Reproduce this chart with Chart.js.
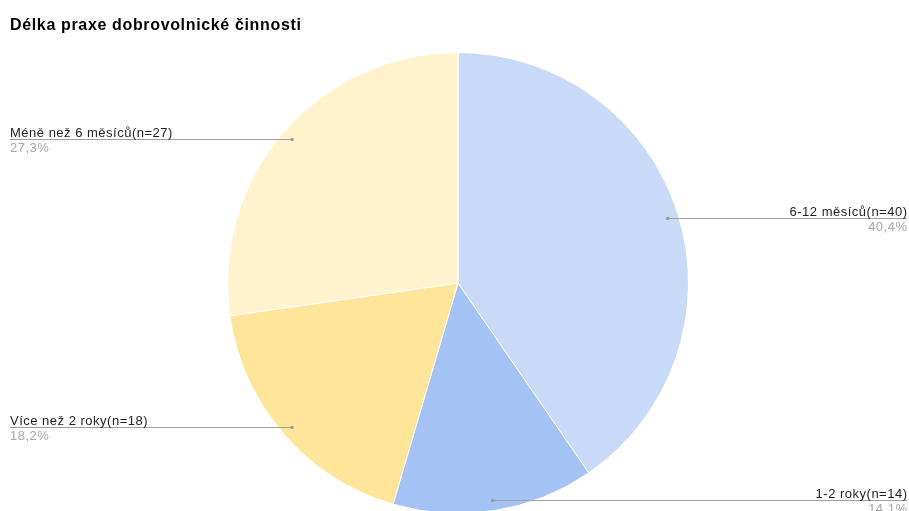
<!DOCTYPE html>
<html>
<head>
<meta charset="utf-8">
<script src="https://cdn.jsdelivr.net/npm/chart.js@4/dist/chart.umd.min.js"></script>
<style>
  html, body { margin: 0; padding: 0; background: #fff; overflow: hidden; }
  #wrap { position: relative; width: 909px; height: 530px; }
</style>
</head>
<body>
<div id="wrap"><canvas id="c" width="909" height="530"></canvas></div>
<script>
const chartTitle = 'Délka praxe dobrovolnické činnosti';
const categories = ['6-12 měsíců', '1-2 roky', 'Více než 2 roky', 'Méně než 6 měsíců'];
const counts = [40, 14, 18, 27];
const sliceColors = ['#c9daf8', '#a4c2f4', '#ffe599', '#fff2cc'];

const FONT = '"Liberation Sans", Arial, Helvetica, sans-serif';

const leaderLabels = {
  id: 'leaderLabels',
  afterDatasetsDraw(chart) {
    const ctx = chart.ctx;
    const meta = chart.getDatasetMeta(0);
    const data = chart.data.datasets[0].data;
    const total = data.reduce((a, b) => a + b, 0);
    ctx.save();
    // title
    ctx.font = 'bold 16px ' + FONT;
    ctx.letterSpacing = '0.65px';
    ctx.fillStyle = '#000000';
    ctx.textAlign = 'left';
    ctx.textBaseline = 'alphabetic';
    ctx.fillText(chartTitle, 10, 30);

    meta.data.forEach((arc, i) => {
      const p = arc.getProps(['x', 'y', 'startAngle', 'endAngle', 'outerRadius'], true);
      const mid = (p.startAngle + p.endAngle) / 2;
      const r = p.outerRadius * 0.953;
      const px = p.x + Math.cos(mid) * r;
      const py = Math.round(p.y + Math.sin(mid) * r) + 0.5;
      const right = Math.cos(mid) >= 0;
      const x0 = right ? px : 10;
      const x1 = right ? 907 : px;
      ctx.strokeStyle = '#a0a0a0';
      ctx.lineWidth = 1;
      ctx.beginPath();
      ctx.moveTo(x0, py);
      ctx.lineTo(x1, py);
      ctx.stroke();
      ctx.fillStyle = '#9a9a9a';
      ctx.beginPath();
      ctx.arc(px, py, 1.8, 0, Math.PI * 2);
      ctx.fill();
      const label = categories[i] + '(n=' + data[i] + ')';
      const pct = (data[i] / total * 100).toFixed(1).replace('.', ',') + '%';
      ctx.font = '13px ' + FONT;
      ctx.letterSpacing = '0.5px';
      ctx.textAlign = right ? 'right' : 'left';
      ctx.textBaseline = 'alphabetic';
      const tx = right ? 907.5 : 10;
      ctx.fillStyle = '#222222';
      ctx.fillText(label, tx, py - 3);
      ctx.fillStyle = '#a6a6a6';
      ctx.fillText(pct, tx, py + 12);
    });
    ctx.restore();
  }
};

new Chart(document.getElementById('c'), {
  type: 'pie',
  data: {
    labels: categories,
    datasets: [{
      data: counts,
      backgroundColor: sliceColors,
      borderColor: '#ffffff',
      borderWidth: 1
    }]
  },
  options: {
    responsive: false,
    animation: false,
    layout: { padding: { left: 10, right: 3, top: 52, bottom: 16 } },
    plugins: {
      legend: { display: false },
      tooltip: { enabled: false },
      title: { display: false }
    }
  },
  plugins: [leaderLabels]
});
</script>
</body>
</html>
